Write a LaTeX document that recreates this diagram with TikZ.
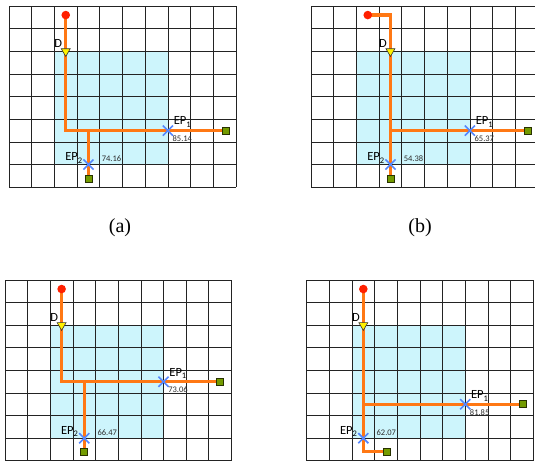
\documentclass[tikz,border=0pt]{standalone}
\usepackage{fontspec}
\setmainfont{Liberation Serif}
\newfontfamily\labfont{Carlito}
\usetikzlibrary{shapes.geometric,shapes.misc,calc}
\definecolor{routec}{RGB}{255,120,20}
\definecolor{dotc}{RGB}{255,32,0}
\definecolor{xc}{RGB}{85,135,255}
\definecolor{cyanc}{RGB}{205,245,252}
\definecolor{sqc}{RGB}{115,155,0}
\definecolor{sqb}{RGB}{40,50,0}
\definecolor{gridc}{RGB}{35,35,35}
\definecolor{numc}{RGB}{45,45,45}
\newcommand\sbs[1]{\raisebox{-0.4ex}{\fontsize{8.5}{9}\selectfont #1}}
\tikzset{
  gridline/.style={gridc, line width=0.8pt},
  cyanarea/.style={fill=cyanc},
  route/.style={routec, line width=3.3pt},
  srcdot/.style={circle, fill=dotc, minimum size=8.6pt, inner sep=0pt},
  dmark/.style={regular polygon, regular polygon sides=3, shape border rotate=180, fill=yellow, draw=black!80, line width=0.6pt, minimum size=10.4pt, inner sep=0pt},
  epx/.style={cross out, draw=xc, line width=1.6pt, minimum size=8.5pt, inner sep=0pt},
  endsq/.style={rectangle, fill=sqc, draw=sqb, line width=0.7pt, minimum size=7pt, inner sep=0pt},
  eplab/.style={font=\labfont\fontsize{12.5}{14}\selectfont, inner sep=0pt},
  numlab/.style={font=\labfont\fontsize{8.5}{9}\selectfont, text=numc, inner sep=0pt},
  caplab/.style={font=\fontsize{20}{22}\selectfont, inner sep=0pt},
}
\newcommand\basegrid{%
  \fill[cyanarea] (2,2) rectangle (7,7);
  \foreach \i in {0,...,10} \draw[gridline] (\i,0) -- (\i,8);
  \foreach \j in {0,...,8} \draw[gridline] (0,\j) -- (10,\j);
}
% #1 prefix, #2 value1, #3 value2
\newcommand\markers[3]{%
  \node[srcdot] (#1s) at (#1s) {};
  \node[dmark] (#1d) at (#1d) {};
  \node[eplab] (#1dl) at ($(#1d)+(-0.33,-0.34)$) {D};
  \node[epx] (#1e1) at (#1e1) {};
  \node[epx] (#1e2) at (#1e2) {};
  \node[endsq] (#1g1) at (#1g1) {};
  \node[endsq] (#1g2) at (#1g2) {};
  \node[eplab, anchor=base west] (#1l1) at ($(#1e1)+(0.25,-0.25)$) {EP\sbs{1}};
  \node[numlab, anchor=west] (#1n1) at ($(#1e1)+(0.2,0.35)$) {#2};
  \node[eplab, anchor=base east] (#1l2) at ($(#1e2)+(-0.27,-0.17)$) {EP\sbs{2}};
  \node[numlab, anchor=west] (#1n2) at ($(#1e2)+(0.58,-0.24)$) {#3};
}
\begin{document}
\begin{tikzpicture}[x=1pt,y=-1pt]
\useasboundingbox (0,0) rectangle (535,464);
% (a)
\begin{scope}[shift={(9,6)}]
\begin{scope}[x=22.7pt,y=-22.65pt]
\basegrid
\coordinate (as) at (2.5,0.4);
\coordinate (ad) at (2.5,2);
\coordinate (ac) at (2.5,5.5);
\coordinate (aj) at (3.5,5.5);
\coordinate (ae1) at (7,5.5);
\coordinate (ae2) at (3.5,7);
\coordinate (ag1) at (9.55,5.5);
\coordinate (ag2) at (3.5,7.65);
\draw[route] (as) -- (ac) -- (ag1);
\draw[route] (aj) -- (ag2);
\markers{a}{85.14}{74.16}
\end{scope}
\end{scope}
% (b)
\begin{scope}[shift={(311,6)}]
\begin{scope}[x=22.7pt,y=-22.65pt]
\basegrid
\coordinate (bs) at (2.5,0.4);
\coordinate (bk) at (3.5,0.4);
\coordinate (bd) at (3.5,2);
\coordinate (bj) at (3.5,5.5);
\coordinate (be1) at (7,5.5);
\coordinate (be2) at (3.5,7);
\coordinate (bg1) at (9.55,5.5);
\coordinate (bg2) at (3.5,7.65);
\draw[route] (bs) -- (bk) -- (bg2);
\draw[route] (bj) -- (bg1);
\markers{b}{65.37}{54.38}
\end{scope}
\end{scope}
% (c)
\begin{scope}[shift={(5,280)}]
\begin{scope}[x=22.65pt,y=-22.6pt]
\basegrid
\coordinate (cs) at (2.5,0.4);
\coordinate (cd) at (2.5,2);
\coordinate (cc) at (2.5,4.5);
\coordinate (cj) at (3.5,4.5);
\coordinate (ce1) at (7,4.5);
\coordinate (ce2) at (3.5,7);
\coordinate (cg1) at (9.5,4.5);
\coordinate (cg2) at (3.5,7.6);
\draw[route] (cs) -- (cc) -- (cg1);
\draw[route] (cj) -- (cg2);
\markers{c}{73.06}{66.47}
\end{scope}
\end{scope}
% (d)
\begin{scope}[shift={(306.7,280)}]
\begin{scope}[x=22.65pt,y=-22.6pt]
\basegrid
\coordinate (ds) at (2.5,0.4);
\coordinate (dd) at (2.5,2);
\coordinate (dc) at (2.5,7.6);
\coordinate (dj) at (2.5,5.5);
\coordinate (de1) at (7,5.5);
\coordinate (de2) at (2.5,7);
\coordinate (dg1) at (9.55,5.5);
\coordinate (dg2) at (3.55,7.6);
\draw[route] (ds) -- (dc) -- (dg2);
\draw[route] (dj) -- (dg1);
\markers{d}{81.85}{62.07}
\end{scope}
\end{scope}
\node[caplab] (capa) at (120,228) {(a)};
\node[caplab] (capb) at (420,228) {(b)};
\end{tikzpicture}
\end{document}
